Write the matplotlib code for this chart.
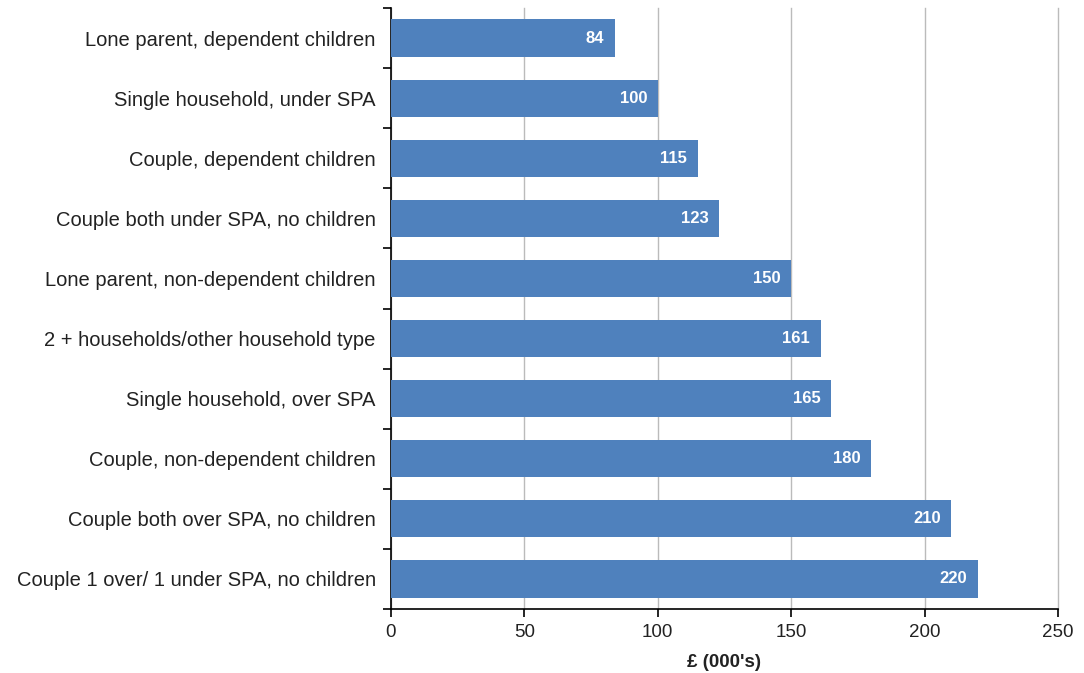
import numpy as np
import matplotlib
matplotlib.use('Agg')
import matplotlib.pyplot as plt
from matplotlib.ticker import FixedLocator

plt.rcParams['font.family'] = ['Liberation Sans', 'DejaVu Sans']

categories = ['Lone parent, dependent children',
              'Single household, under SPA',
              'Couple, dependent children',
              'Couple both under SPA, no children',
              'Lone parent, non-dependent children',
              '2 + households/other household type',
              'Single household, over SPA',
              'Couple, non-dependent children',
              'Couple both over SPA, no children',
              'Couple 1 over/ 1 under SPA, no children']
values = [84, 100, 115, 123, 150, 161, 165, 180, 210, 220]
xticks = [0, 50, 100, 150, 200, 250]

fig = plt.figure(figsize=(10.84, 6.73), dpi=100)
ax = fig.add_axes([0.3607, 0.0951, 0.9760 - 0.3607, 0.988 - 0.0951])

y = np.arange(len(categories))
bars = ax.barh(y, values, height=0.62, color='#4F81BD', zorder=3)
for b, v in zip(bars, values):
    ax.text(b.get_width() - 4, b.get_y() + b.get_height() / 2, str(v),
            ha='right', va='center', color='white', fontweight='bold',
            fontsize=12, zorder=4)

ax.set_ylim(len(categories) - 0.5, -0.5)
ax.set_xlim(0, 250)
ax.set_yticks(y)
ax.set_yticklabels(categories, fontsize=14.5, color='#222222')
ax.tick_params(axis='y', which='major', length=0, pad=11)
ax.yaxis.set_minor_locator(FixedLocator(np.arange(-0.5, len(categories), 1)))
ax.tick_params(axis='y', which='minor', length=6, width=1.2, color='black')

ax.set_xticks(xticks)
ax.set_xticklabels([str(t) for t in xticks], fontsize=13.5, color='#222222')
ax.tick_params(axis='x', length=6, width=1.2, color='black', pad=5)
ax.set_xlabel("£ (000's)", fontsize=13.5, fontweight='bold', color='#222222', labelpad=9)

ax.grid(axis='x', color='#BBBBBB', linewidth=1, zorder=0)
for gl in ax.get_xgridlines():
    gl.set_clip_on(False)
ax.spines['top'].set_visible(False)
ax.spines['right'].set_visible(False)
ax.spines['left'].set_linewidth(1.2)
ax.spines['bottom'].set_linewidth(1.2)

fig.savefig('out.png', dpi=100)
